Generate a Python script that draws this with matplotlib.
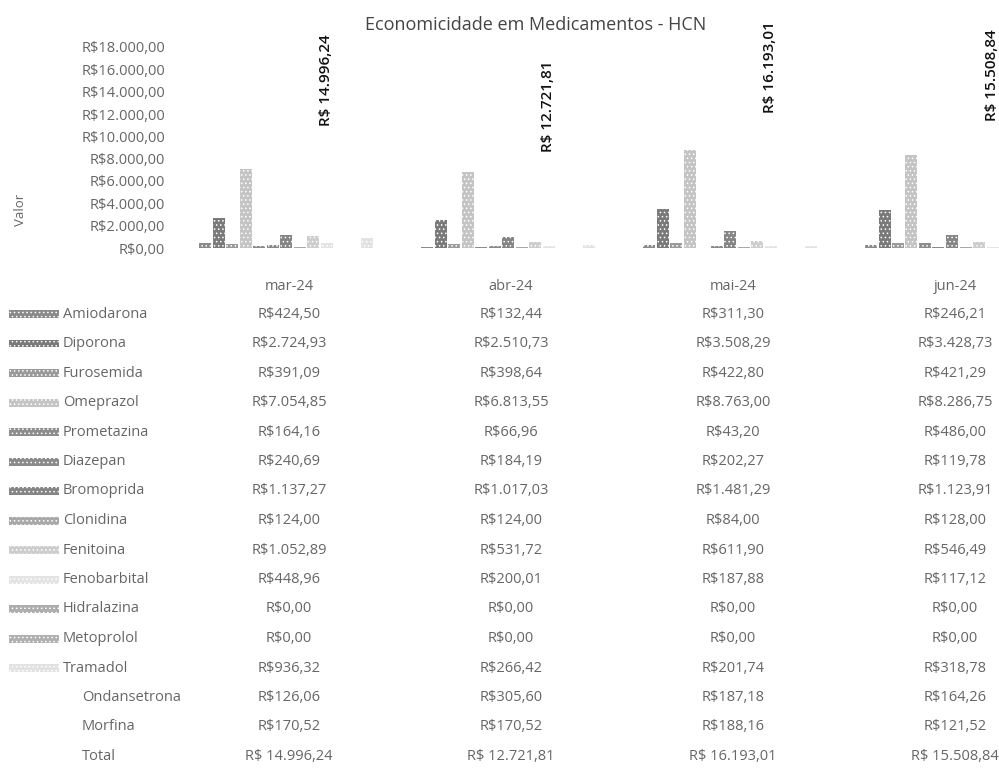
import numpy as np
import matplotlib
matplotlib.use("Agg")
import matplotlib.pyplot as plt
from matplotlib.patches import Rectangle
from matplotlib.transforms import blended_transform_factory

# --- data ---
months = ["mar-24", "abr-24", "mai-24", "jun-24"]
drugs = ["Amiodarona", "Diporona", "Furosemida", "Omeprazol", "Prometazina",
         "Diazepan", "Bromoprida", "Clonidina", "Fenitoina", "Fenobarbital",
         "Hidralazina", "Metoprolol", "Tramadol", "Ondansetrona", "Morfina"]
values = [
    [424.50, 132.44, 311.30, 246.21],
    [2724.93, 2510.73, 3508.29, 3428.73],
    [391.09, 398.64, 422.80, 421.29],
    [7054.85, 6813.55, 8763.00, 8286.75],
    [164.16, 66.96, 43.20, 486.00],
    [240.69, 184.19, 202.27, 119.78],
    [1137.27, 1017.03, 1481.29, 1123.91],
    [124.00, 124.00, 84.00, 128.00],
    [1052.89, 531.72, 611.90, 546.49],
    [448.96, 200.01, 187.88, 117.12],
    [0.00, 0.00, 0.00, 0.00],
    [0.00, 0.00, 0.00, 0.00],
    [936.32, 266.42, 201.74, 318.78],
    [126.06, 305.60, 187.18, 164.26],
    [170.52, 170.52, 188.16, 121.52],
]
totals = [14996.24, 12721.81, 16193.01, 15508.84]
yticks = np.arange(0, 18001, 2000)

# grey shades of the (dithered) bars / legend keys
shades = ["#8a8a8a", "#7a7a7a", "#9a9a9a", "#c4c4c4", "#8c8c8c", "#8a8a8a",
          "#858585", "#a8a8a8", "#cdcdcd", "#e4e4e4", "#adadad", "#b0b0b0",
          "#e2e2e2", None, None]


def brl(v, space=False):
    s = f"{v:,.2f}".replace(",", "X").replace(".", ",").replace("X", ".")
    return ("R$ " if space else "R$") + s


W, H = 999, 771
fig = plt.figure(figsize=(W / 100, H / 100), dpi=100)
plt.rcParams["font.family"] = ["Open Sans", "DejaVu Sans"]
plt.rcParams["hatch.linewidth"] = 0.6

# layout in pixels
col_px = 289.0      # centre of first category / table column
col_step = 222.0
plot_left, y0_px, ytop_px = 175, 248, 47

ax = fig.add_axes([plot_left / W, 1 - y0_px / H, 1 - plot_left / W, (y0_px - ytop_px) / H])
ax.set_xlim((plot_left - col_px) / col_step, (W - col_px) / col_step)
ax.set_ylim(0, 18000)
for s in ax.spines.values():
    s.set_visible(False)
ax.set_xticks([])
ax.set_yticks(yticks)
ax.set_yticklabels([brl(t) for t in yticks], color="#666666", fontsize=10.5)
ax.tick_params(axis="y", length=0, pad=7)

bar_step = 13.5 / col_step
bar_shift = -84.0 / col_step
bar_w = 12.0 / col_step
x = np.arange(len(months))
for i, (name, vals) in enumerate(zip(drugs, values)):
    if shades[i] is None:
        continue
    ax.bar(x + bar_shift + i * bar_step, vals, width=bar_w, align="center",
           color=shades[i], edgecolor="white", hatch="....", linewidth=0)

# total labels (vertical)
for k, t in enumerate(totals):
    ax.text(k + 37.0 / col_step, t, brl(t, space=True), rotation=90,
            ha="center", va="center", fontsize=11, color="#111111",
            fontweight="semibold", clip_on=False)

fig.text(536 / W, 1 - 25 / H, "Economicidade em Medicamentos - HCN",
         ha="center", va="center", fontsize=13, color="#444444")
fig.text(20 / W, 1 - 210 / H, "Valor", rotation=90, ha="center", va="center",
         fontsize=9.5, color="#666666")

# --- data table under the chart ---
tr = blended_transform_factory(ax.transData, fig.transFigure)
head_y = 287
row0_y = 314
row_step = 29.5
txt = dict(fontsize=10.5, color="#666666", va="center")
for k, m in enumerate(months):
    fig.text(k, 1 - head_y / H, m, ha="center", transform=tr, **txt)

rows = drugs + ["Total"]
for r, name in enumerate(rows):
    yy = 1 - (row0_y + r * row_step) / H
    if r < len(drugs) and shades[r] is not None:
        fig.patches.append(Rectangle((9 / W, yy - 4 / H), 50 / W, 8 / H,
                                     transform=fig.transFigure, facecolor=shades[r],
                                     edgecolor="white", hatch="....", linewidth=0))
        fig.text(63 / W, yy, name, ha="left", **txt)
    else:
        fig.text(82 / W, yy, name, ha="left", **txt)
    for k in range(len(months)):
        v = totals[k] if name == "Total" else values[r][k]
        fig.text(k, yy, brl(v, space=(name == "Total")), ha="center",
                 transform=tr, **txt)

fig.savefig("out.png", dpi=100)
